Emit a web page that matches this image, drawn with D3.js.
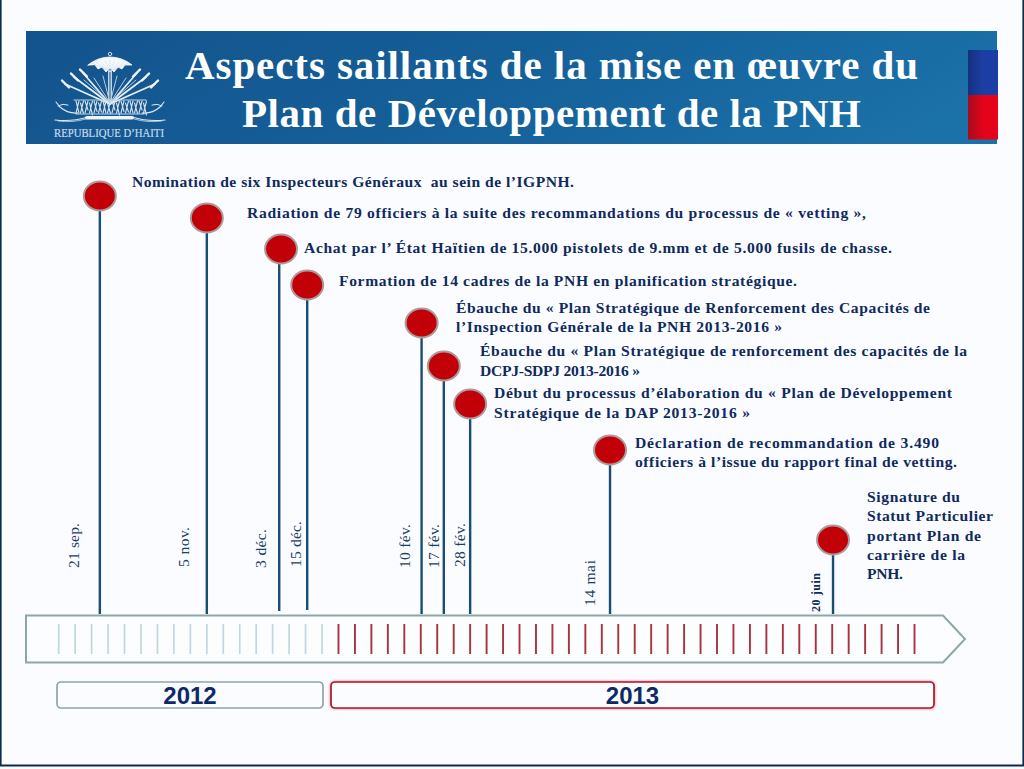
<!DOCTYPE html>
<html><head><meta charset="utf-8">
<script src="https://cdn.jsdelivr.net/npm/d3@7/dist/d3.min.js"></script>
<style>html,body{margin:0;padding:0;background:#fbfcff;overflow:hidden}svg{display:block}</style>
</head><body><svg id="c" width="1024" height="769"></svg>
<script>
// ---------- data ----------
const titleLines = ["Aspects saillants de la mise en œuvre du", "Plan de Développement de la PNH"];
const dates = ["21 sep.", "5 nov.", "3 déc.", "15 déc.", "10 fév.", "17 fév.", "28 fév.", "14 mai", "20 juin"];
// position of each event on the week graduation of the timeline
const weekPositions = [2.5, 9, 13.4, 15.1, 22.05, 23.4, 25, 33.5, 47.05];
// height of each event stem above the ground line
const stemTops = [418, 396, 365, 329, 291, 248, 210, 164, 74];
const stemBases = [0, 0, 3, 4, 0, 0, 0, 0, 0];
const eventTexts = [
  ["Nomination de six Inspecteurs Généraux  au sein de l’IGPNH."],
  ["Radiation de 79 officiers à la suite des recommandations du processus de « vetting »,"],
  ["Achat par l’ État Haïtien de 15.000 pistolets de 9.mm et de 5.000 fusils de chasse."],
  ["Formation de 14 cadres de la PNH en planification stratégique."],
  ["Ébauche du « Plan Stratégique de Renforcement des Capacités de", "l’Inspection Générale de la PNH 2013-2016 »"],
  ["Ébauche du « Plan Stratégique de renforcement des capacités de la", "DCPJ-SDPJ 2013-2016 »"],
  ["Début du processus d’élaboration du « Plan de Développement", "Stratégique de la DAP 2013-2016 »"],
  ["Déclaration de recommandation de 3.490", "officiers à l’issue du rapport final de vetting."],
  ["Signature du", "Statut Particulier", "portant Plan de", "carrière de la", "PNH."]
];
const years = ["2012", "2013"];
const yearStartWeeks = [0, 17];
const yearTickCounts = [17, 36];

// ---------- layout (not data) ----------
const W = 1024, H = 769;
const groundY = 614;
const x = d3.scaleLinear().domain([0, 52]).range([58.7, 914.5]);
const y = d3.scaleLinear().domain([0, 614]).range([groundY, 0]);
const textLayout = [
  {x:132, y:[187], w:[442]},
  {x:247, y:[218], w:[619]},
  {x:304, y:[253], w:[588]},
  {x:339, y:[286], w:[458]},
  {x:456, y:[313,332], w:[474,326]},
  {x:480, y:[356,376], w:[487,160]},
  {x:494, y:[398,418], w:[458,256]},
  {x:635, y:[448,467], w:[304,322]},
  {x:867, y:[502,521,541,560,579], w:[93,126,114,98,36]}
];
const dateLayout = [
  {x:79,y:568,w:45},{x:189,y:567,w:40},{x:266,y:568,w:39},{x:301,y:567,w:46},
  {x:410,y:568,w:44},{x:439,y:568,w:44},{x:465,y:567,w:44},{x:595,y:606,w:46},{x:820,y:612,w:39}
];
const bubbleShift = [0,0,1.8,0,0,0,0,0,0];
const navy = "#0f2a5c", serif = "'Liberation Serif',serif";

const svg = d3.select("#c");
const defs = svg.append("defs");
function grad(id, x1, y1, x2, y2, stops){
  const g = defs.append("linearGradient").attr("id", id)
    .attr("x1",x1).attr("y1",y1).attr("x2",x2).attr("y2",y2);
  stops.forEach(s => g.append("stop").attr("offset",s[0]).attr("stop-color",s[1]));
}
grad("hd",0,0.4,1,0.6,[[0,"#14548e"],[0.45,"#155f99"],[1,"#1b72a9"]]);
grad("bl",0,0,1,0,[[0,"#14307e"],[0.5,"#1c3fa4"],[1,"#1a3ea6"]]);
grad("rd",0,0,1,0,[[0,"#a50c1c"],[0.5,"#e3041a"],[1,"#e8001a"]]);
defs.append("filter").attr("id","glow").append("feGaussianBlur").attr("stdDeviation",0.8);
defs.append("filter").attr("id","soft").append("feGaussianBlur").attr("stdDeviation",0.3);

// page
svg.append("rect").attr("width",W).attr("height",H).attr("fill","#fbfcff");
svg.append("path").attr("d",`M0.6,0V765.5H1023.4V0`).attr("fill","none").attr("stroke","#0b2a50").attr("stroke-width",2);

// header
svg.append("rect").attr("x",26).attr("y",31).attr("width",971).attr("height",113).attr("fill","url(#hd)");
svg.append("rect").attr("x",968).attr("y",50).attr("width",30).attr("height",45).attr("fill","url(#bl)");
svg.append("rect").attr("x",968).attr("y",95).attr("width",30).attr("height",44.5).attr("fill","url(#rd)");
svg.selectAll("text.title").data(titleLines).join("text").attr("class","title")
  .attr("x",(d,i)=>[185,242][i]).attr("y",(d,i)=>[79,127][i])
  .attr("textLength",(d,i)=>[733,619][i]).attr("lengthAdjust","spacing")
  .attr("font-family",serif).attr("font-weight",700).attr("font-size",41).attr("fill","#fff").text(d=>d);

// emblem (decoration)
const em = svg.append("g").attr("filter","url(#soft)").attr("fill","none").attr("stroke","#dde8f1").attr("stroke-linecap","round");
// palm crown
em.append("path").attr("d","M88,65 Q98,57 110,57 Q122,57 132,65 L125,65 L122,69 L118,67 L114,72 L110,68 L106,72 L102,67 L98,69 L95,65 Z")
  .attr("fill","#f6f9fc").attr("stroke","#f6f9fc").attr("stroke-width",0.8);
d3.range(-4,5).forEach(k=>{
  em.append("path").attr("d",`M110,71.5L${110+k*4.6},${61+Math.abs(k)*0.5}`).attr("stroke","#c5d6e4").attr("stroke-width",0.5);
});
em.append("circle").attr("cx",110).attr("cy",54).attr("r",1.7).attr("stroke-width",0.9);
em.append("path").attr("d","M108.8,71V101M111.2,71V101").attr("stroke-width",1.2).attr("stroke","#eef4f8");
// fan of muskets and flags
[[65,84],[74,77],[83,73],[155,84],[146,77],[137,73]].forEach(p=>{
  em.append("path").attr("d",`M110,104L${p[0]},${p[1]}`).attr("stroke-width",1.7).attr("stroke","#e6eef5");
  const s=p[0]<110?1:-1;
  em.append("path").attr("d",`M${p[0]-3*s},${p[1]-3.5}L${p[0]+4*s},${p[1]+3.5}`).attr("stroke-width",2.4).attr("stroke","#eef4f8");
});
[[-26,80],[-16,78],[-7,76],[7,76],[16,78],[26,80]].forEach(p=>{
  em.append("path").attr("d",`M110,103L${110+p[0]},${p[1]}`).attr("stroke-width",1).attr("stroke","#b4cbdd");
});
// drums and trophies
d3.range(76,145,4.5).forEach((px,i)=>{
  em.append("path").attr("d",`M${px},${101+(i%2)*2}l3,${12-(i%3)*1.5}M${px+3},${101}l-3,12`).attr("stroke-width",1.1).attr("stroke","#d4e1ec");
});
em.append("path").attr("d","M74,100H146M76,114H144").attr("stroke-width",1.1).attr("stroke","#c2d5e3");
[-1,1].forEach(k=>{
  em.append("path").attr("d",`M${110+k*32},113 Q${110+k*42},114 ${110+k*50},107 L${110+k*54},102`).attr("stroke-width",1.1);
  em.append("path").attr("d",`M${110+k*42},105 Q${110+k*47},103 ${110+k*52},106`).attr("stroke-width",1);
  em.append("path").attr("d",`M${110+k*22},117 Q${110+k*38},122 ${110+k*55},120`).attr("stroke-width",1.1);
  em.append("path").attr("d",`M${110+k*24},119 Q${110+k*38},123 ${110+k*52},121`).attr("stroke-width",0.7);
});
em.append("rect").attr("x",85).attr("y",116).attr("width",49).attr("height",3.6).attr("rx",1.8).attr("fill","#eef4f8").attr("stroke","none");
svg.append("text").attr("x",54).attr("y",136.5).attr("textLength",110).attr("lengthAdjust","spacingAndGlyphs")
  .attr("font-family",serif).attr("font-size",11.5).attr("fill","#c9dbe8").attr("stroke","#c9dbe8").attr("stroke-width",0.2).text("REPUBLIQUE D’HAITI");

// stems
const events = dates.map((d,i)=>({date:d, pos:weekPositions[i], top:stemTops[i], base:stemBases[i], text:eventTexts[i], tl:textLayout[i], dl:dateLayout[i], shift:bubbleShift[i]}));
const ev = svg.append("g").selectAll("g").data(events).join("g");
const stemX = d => x(d.pos);
ev.append("line")
  .attr("x1",stemX).attr("x2",stemX)
  .attr("y1",d=>y(d.top)).attr("y2",d=>y(d.base))
  .attr("stroke","#1a4d72").attr("stroke-width",2.4);

// timeline
const tw = [[26,615.5],[943,615.5],[965,639],[943,662.5],[26,662.5]];
svg.append("path").attr("d",d3.line()(tw)+"Z").attr("fill","#fbfdff").attr("stroke","#8fa6a6").attr("stroke-width",2);
years.forEach((yr,k)=>{
  svg.append("g").selectAll("line").data(d3.range(yearTickCounts[k]).map(i=>i+yearStartWeeks[k])).join("line")
    .attr("x1",d=>x(d)).attr("x2",d=>x(d)).attr("y1",624).attr("y2",654)
    .attr("stroke",k?"#a9323c":"#bfd8df").attr("stroke-width",k?1.9:1.7);
});

// bubbles
ev.append("ellipse").attr("cx",d=>x(d.pos)+d.shift).attr("cy",d=>y(d.top))
  .attr("rx",16).attr("ry",14.4)
  .attr("fill","#c10008").attr("stroke","#ac9a9c").attr("stroke-width",2);

// date labels
ev.append("text")
  .attr("transform",d=>`translate(${d.dl.x},${d.dl.y}) rotate(-90)`)
  .attr("textLength",d=>d.dl.w).attr("lengthAdjust","spacing")
  .attr("font-family",serif).attr("font-size",(d,i)=>i===8?12:15.5).attr("font-weight",(d,i)=>i===8?700:400)
  .attr("fill",(d,i)=>i===8?navy:"#1d3f66").text(d=>d.date);

// event texts
ev.each(function(d){
  d3.select(this).selectAll("text.lab").data(d.text).join("text").attr("class","lab")
    .attr("x",d.tl.x).attr("y",(t,i)=>d.tl.y[i])
    .attr("textLength",(t,i)=>d.tl.w[i]).attr("lengthAdjust","spacing")
    .attr("font-family",serif).attr("font-weight",700).attr("font-size",15.6).attr("fill",navy)
    .style("white-space","pre").text(t=>t);
});

// year bars
const yearBox = [{x:57,w:266,c:"#8ea5a8"},{x:331,w:603,c:"#a3192c"}];
years.forEach((yr,i)=>{
  const b = yearBox[i];
  if(i) svg.append("rect").attr("x",b.x).attr("y",682).attr("width",b.w).attr("height",26).attr("rx",4)
    .attr("fill","none").attr("stroke","#f58a94").attr("stroke-width",2.6).attr("filter","url(#glow)");
  svg.append("rect").attr("x",b.x).attr("y",682).attr("width",b.w).attr("height",26).attr("rx",4)
    .attr("fill","#fbfcff").attr("stroke",b.c).attr("stroke-width",1.7);
  svg.append("text").attr("x",[190,632.5][i]).attr("y",704).attr("text-anchor","middle")
    .attr("font-family","'Liberation Sans',Arial,sans-serif").attr("font-weight",700).attr("font-size",24)
    .attr("fill","#0e2a66").text(yr);
});
</script></body></html>
